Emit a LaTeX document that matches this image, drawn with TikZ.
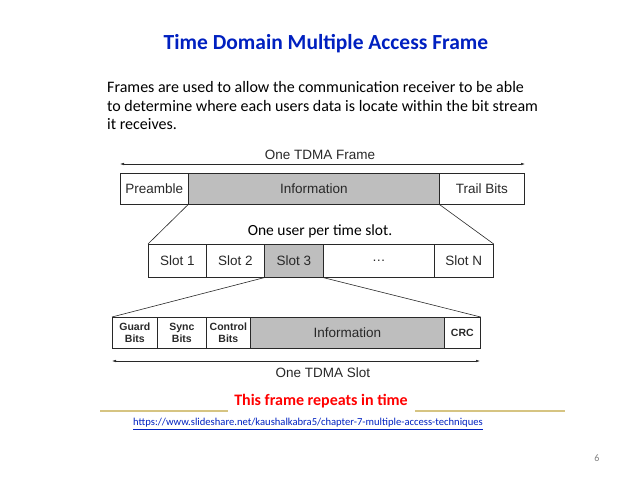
\documentclass[tikz,border=0pt]{standalone}
\usepackage{fontspec}
\setmainfont{Carlito}
\newfontfamily\arial{Liberation Sans}
\usetikzlibrary{arrows.meta}
\definecolor{titleblue}{RGB}{0,32,192}
\definecolor{gold}{RGB}{214,196,130}
\definecolor{boxgray}{RGB}{190,190,190}
\definecolor{ink}{RGB}{40,40,40}
\tikzset{
  cell/.style={draw=ink, line width=0.7pt, font=\arial\fontsize{13.5}{15}\selectfont, text=ink, inner sep=0pt},
  shaded/.style={cell, fill=boxgray},
  small/.style={cell, font=\arial\bfseries\fontsize{10.5}{12}\selectfont, align=center},
  zoomline/.style={draw=ink, line width=0.6pt},
  span/.style={draw=ink, line width=0.5pt, {Latex[length=4pt,width=2.5pt]}-{Latex[length=4pt,width=2.5pt]}},
  lbl/.style={font=\arial\fontsize{13.5}{15}\selectfont, text=ink, inner sep=0pt},
  goldline/.style={draw=gold, line width=1.2pt}
}
\begin{document}
\begin{tikzpicture}[x=1pt,y=-1pt]
\useasboundingbox (0,0) rectangle (638,478);
\node[font=\bfseries\fontsize{21.5}{24}\selectfont, text=titleblue] (title) at (326,44) {Time Domain Multiple Access Frame};
\node[anchor=west, align=left, font=\fontsize{16}{18.5}\selectfont, inner sep=0pt] (para) at (107,106)
 {Frames are used to allow the communication receiver to be able\\to determine where each users data is locate within the bit stream\\it receives.};
% top frame
\coordinate (fl) at (120,164); \coordinate (fr) at (525,164);
\draw[span] (fl) -- (fr);
\node[lbl] (flabel) at (320,155) {One TDMA Frame};
\node[cell, minimum width=68pt, minimum height=31pt, anchor=north west] (pre) at (120,173) {Preamble};
\node[shaded, minimum width=251pt, minimum height=31pt, anchor=north west] (info) at (188,173) {Information};
\node[cell, minimum width=85pt, minimum height=31pt, anchor=north west] (trail) at (439,173) {Trail Bits};
\node[font=\fontsize{15.5}{17}\selectfont, inner sep=0pt] (user) at (320,231) {One user per time slot.};
% slots
\node[cell, minimum width=58pt, minimum height=33pt, anchor=north west] (s1) at (148,244) {Slot 1};
\node[cell, minimum width=58pt, minimum height=33pt, anchor=north west] (s2) at (206,244) {Slot 2};
\node[shaded, minimum width=59pt, minimum height=33pt, anchor=north west] (s3) at (264,244) {Slot 3};
\node[cell, minimum width=111pt, minimum height=33pt, anchor=north west] (sd) at (323,244) {\dots};
\node[cell, minimum width=59pt, minimum height=33pt, anchor=north west] (sn) at (434,244) {Slot N};
\draw[zoomline] (info.south west) -- (s1.north west);
\draw[zoomline] (info.south east) -- (sn.north east);
% slot details
\node[small, minimum width=45pt, minimum height=31pt, anchor=north west] (g) at (112,317) {Guard\\Bits};
\node[small, minimum width=49pt, minimum height=31pt, anchor=north west] (sy) at (157,317) {Sync\\Bits};
\node[small, minimum width=44pt, minimum height=31pt, anchor=north west] (c) at (206,317) {Control\\Bits};
\node[shaded, minimum width=194pt, minimum height=31pt, anchor=north west] (i2) at (250,317) {Information};
\node[small, minimum width=36pt, minimum height=31pt, anchor=north west] (crc) at (444,317) {CRC};
\draw[zoomline] (s3.south west) -- (g.north west);
\draw[zoomline] (s3.south east) -- (crc.north east);
\coordinate (sl) at (112,361); \coordinate (sr) at (480,361);
\draw[span] (sl) -- (sr);
\node[lbl] (slabel) at (323,373) {One TDMA Slot};
% footer
\node[font=\bfseries\fontsize{16}{18}\selectfont, text=red] (rep) at (321,401) {This frame repeats in time};
\coordinate (g1) at (100,411); \coordinate (g2) at (228,411);
\coordinate (g3) at (415,411); \coordinate (g4) at (565,411);
\draw[goldline] (g1) -- (g2);
\draw[goldline] (g3) -- (g4);
\node[font=\fontsize{10.6}{12}\selectfont, text=titleblue, inner sep=0pt] (link) at (308,424) {\underline{https://www.slideshare.net/kaushalkabra5/chapter-7-multiple-access-techniques}};
\node[font=\fontsize{10}{12}\selectfont, text=gray] (num) at (597,458) {6};
\end{tikzpicture}
\end{document}
